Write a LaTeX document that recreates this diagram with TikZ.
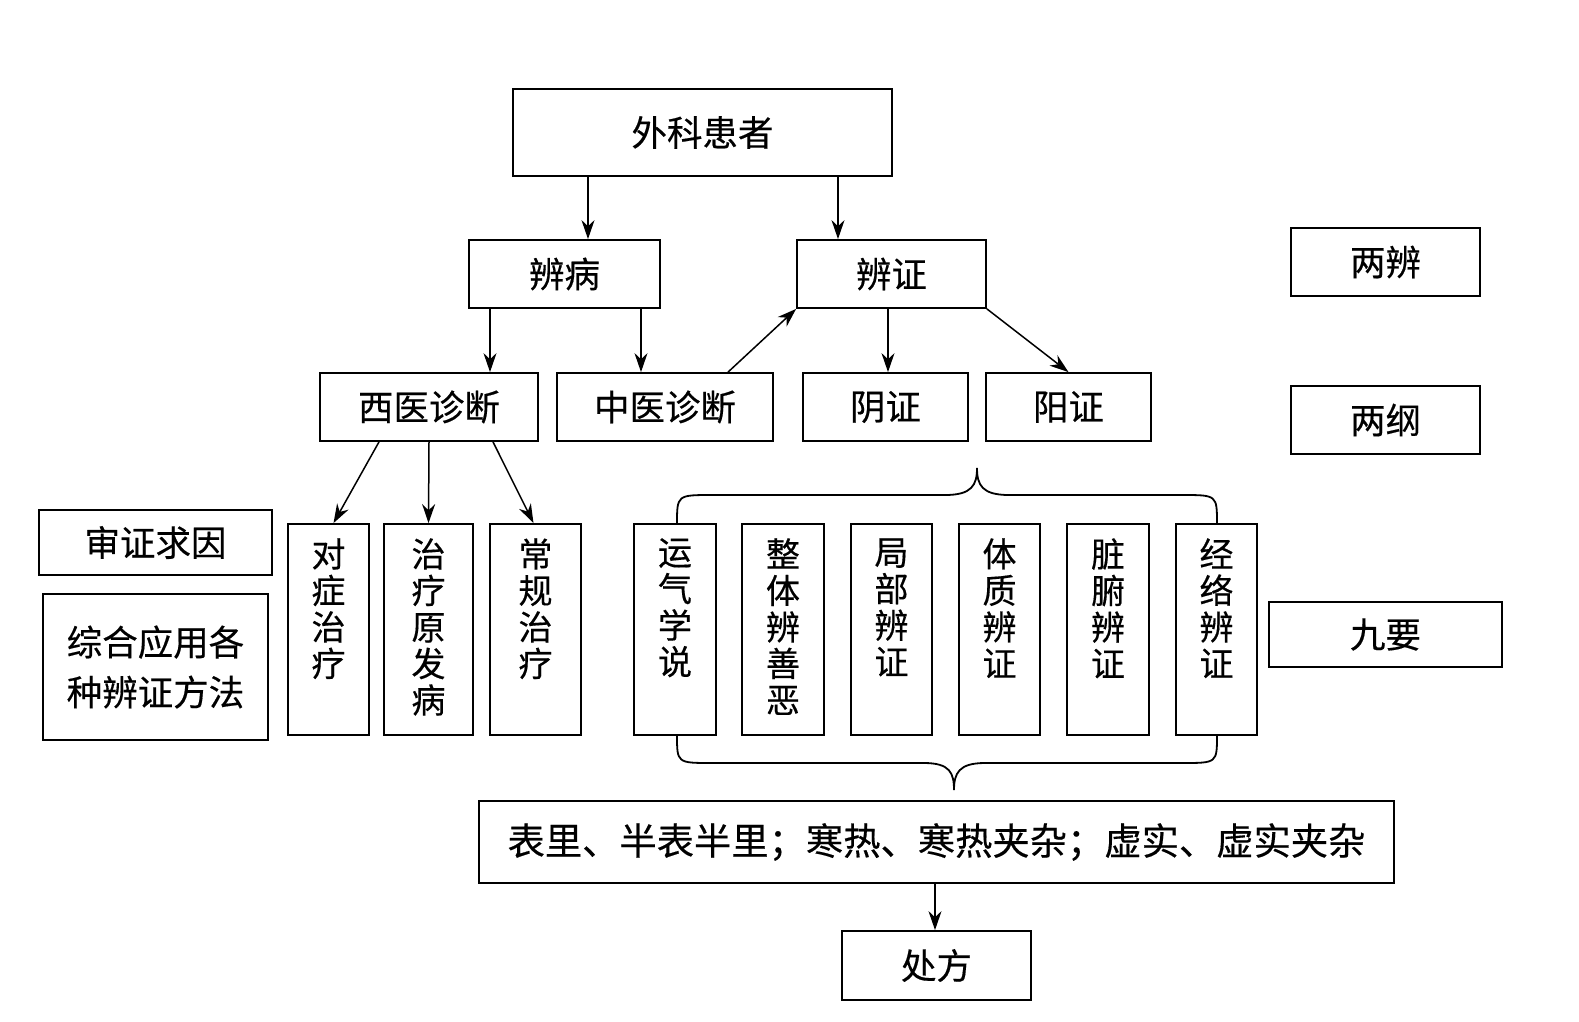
\documentclass[tikz,border=0pt]{standalone}
\usepackage{fontspec}
\setmainfont{Noto Sans CJK SC}[FakeBold=0.4]
\usetikzlibrary{arrows.meta}
\begin{document}
\begin{tikzpicture}[x=1pt,y=-1pt,
 box/.style={draw, line width=1.8pt, inner sep=0pt, font=\fontsize{35.5}{40}\selectfont},
 vlab/.style={inner sep=0pt, align=center, anchor=north, font=\fontsize{34}{36.5}\selectfont},
 arr/.style={line width=1.5pt, -{Stealth[length=19pt,width=13pt]}},
 brace/.style={line width=1.8pt}]
\useasboundingbox (0,0) rectangle (1579,1021);
% top levels
\node[box, minimum width=379pt, minimum height=87pt] (top) at (702.5,132.5) {外科患者};
\node[box, minimum width=191pt, minimum height=68pt] (bing) at (564.5,274) {辨病};
\node[box, minimum width=189pt, minimum height=68pt] (zheng) at (891.5,274) {辨证};
\node[box, minimum width=189pt, minimum height=68pt] (liangbian) at (1385.5,262) {两辨};
\node[box, minimum width=218pt, minimum height=68pt] (xiyi) at (429,407) {西医诊断};
\node[box, minimum width=216pt, minimum height=68pt] (zhongyi) at (665,407) {中医诊断};
\node[box, minimum width=165pt, minimum height=68pt] (yin) at (885.5,407) {阴证};
\node[box, minimum width=165pt, minimum height=68pt] (yang) at (1068.5,407) {阳证};
\node[box, minimum width=189pt, minimum height=68pt] (lianggang) at (1385.5,420) {两纲};
\node[box, minimum width=233pt, minimum height=65pt] (shen) at (155.5,542.5) {审证求因};
\node[box, minimum width=225pt, minimum height=146pt, align=center, font=\fontsize{35.5}{50}\selectfont] (zonghe) at (155.5,667) {综合应用各\\种辨证方法};
\node[box, minimum width=233pt, minimum height=65pt] (jiuyao) at (1385.5,634.5) {九要};
\node[box, minimum width=915pt, minimum height=82pt, font=\fontsize{37.3}{40}\selectfont] (biaoli) at (936.5,842) {表里、半表半里；寒热、寒热夹杂；虚实、虚实夹杂};
\node[box, minimum width=189pt, minimum height=69pt] (chufang) at (936.5,965.5) {处方};
% vertical boxes
\foreach \n/\cx/\w in {v1/328.5/81, v2/428.5/89, v3/535.5/91, v4/675/82, v5/783/82, v6/891.5/81, v7/999.5/81, v8/1108/82, v9/1216.5/81}
  \node[box, minimum width=\w pt, minimum height=211pt] (\n) at (\cx,629.5) {};
\node[vlab] (t1) at ([yshift=-15pt]v1.north) {对\\症\\治\\疗};
\node[vlab] (t2) at ([yshift=-15pt]v2.north) {治\\疗\\原\\发\\病};
\node[vlab] (t3) at ([yshift=-15pt]v3.north) {常\\规\\治\\疗};
\node[vlab] (t4) at ([yshift=-15pt]v4.north) {运\\气\\学\\说};
\node[vlab] (t5) at ([yshift=-15pt]v5.north) {整\\体\\辨\\善\\恶};
\node[vlab] (t6) at ([yshift=-15pt]v6.north) {局\\部\\辨\\证};
\node[vlab] (t7) at ([yshift=-15pt]v7.north) {体\\质\\辨\\证};
\node[vlab] (t8) at ([yshift=-15pt]v8.north) {脏\\腑\\辨\\证};
\node[vlab] (t9) at ([yshift=-15pt]v9.north) {经\\络\\辨\\证};
% arrow x positions
\coordinate (xa) at (588,0);
\coordinate (xb) at (838,0);
\coordinate (xc) at (490,0);
\coordinate (xd) at (641,0);
\coordinate (xe) at (888,0);
\coordinate (xf) at (728,0);
\coordinate (xg) at (379,0);
\coordinate (xh) at (493,0);
\coordinate (xi) at (935,0);
\draw[arr] (top.south -| xa) -- (bing.north -| xa);
\draw[arr] (top.south -| xb) -- (zheng.north -| xb);
\draw[arr] (bing.south -| xc) -- (xiyi.north -| xc);
\draw[arr] (bing.south -| xd) -- (zhongyi.north -| xd);
\draw[arr] (zhongyi.north -| xf) -- (zheng.south west);
\draw[arr] (zheng.south -| xe) -- (yin.north -| xe);
\draw[arr] (zheng.south east) -- (yang.north);
\draw[arr] (xiyi.south -| xg) -- ([xshift=5pt]v1.north);
\draw[arr] (xiyi.south) -- (v2.north);
\draw[arr] (xiyi.south -| xh) -- ([xshift=-2pt]v3.north);
\draw[arr] (biaoli.south -| xi) -- (chufang.north -| xi);
% braces
\draw[brace] (677,524) .. controls (677,495) .. (712,495) -- (945,495)
  .. controls (972,495) and (977,485) .. (977,468)
  .. controls (977,485) and (982,495) .. (1009,495) -- (1182,495)
  .. controls (1217,495) .. (1217,524);
\draw[brace] (677,735) .. controls (677,763) .. (712,763) -- (924,763)
  .. controls (950,763) and (954,773) .. (954,790)
  .. controls (954,773) and (959,763) .. (985,763) -- (1182,763)
  .. controls (1217,763) .. (1217,735);
\end{tikzpicture}
\end{document}
